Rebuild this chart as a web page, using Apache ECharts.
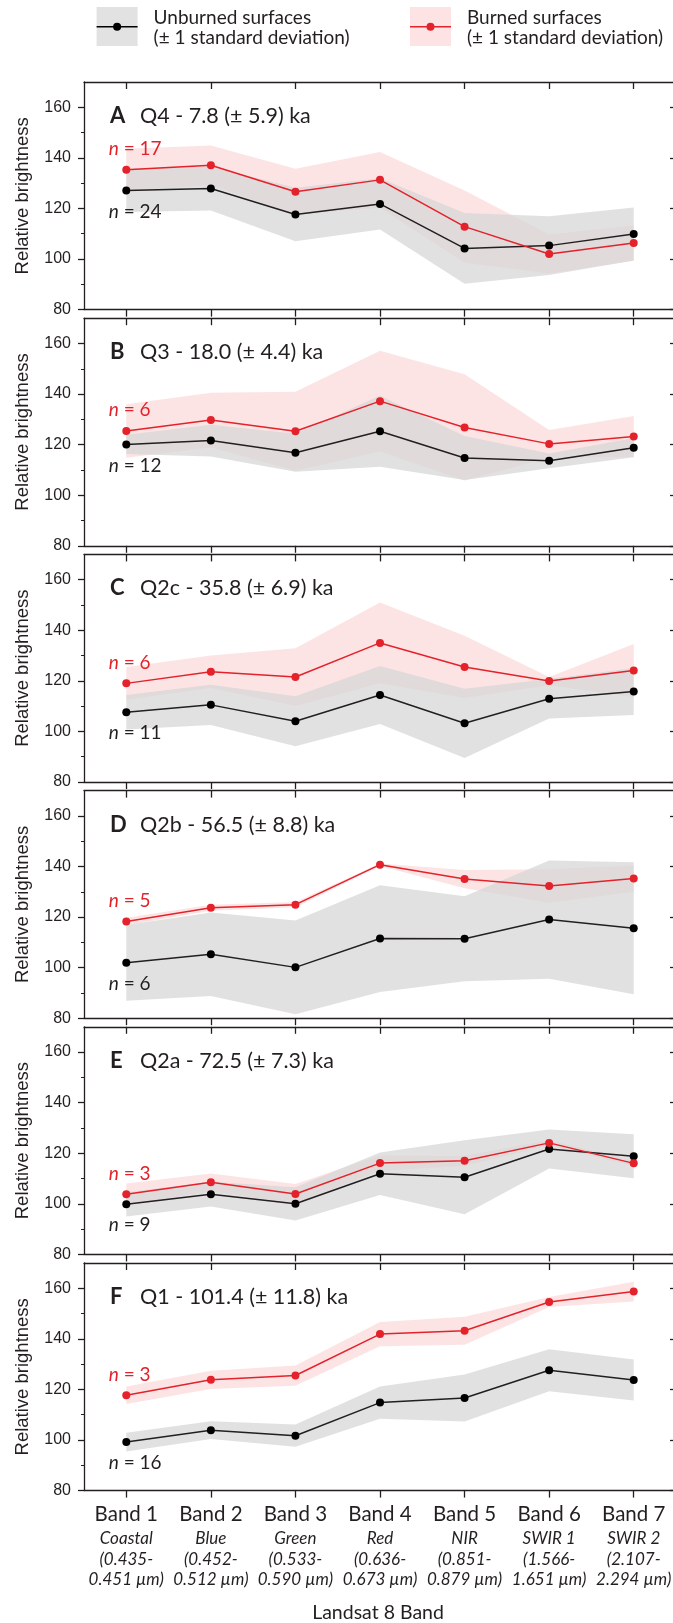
<!DOCTYPE html>
<html>
<head>
<meta charset="utf-8">
<script src="https://cdn.jsdelivr.net/npm/echarts@6/dist/echarts.min.js"></script>
<style>
  html, body { margin: 0; padding: 0; background: #ffffff; }
  #chart { width: 673px; height: 1623px; }
</style>
</head>
<body>
<div id="chart"></div>
<script>
// Landsat 8 bands on the x axis
const bands = ['Band 1', 'Band 2', 'Band 3', 'Band 4', 'Band 5', 'Band 6', 'Band 7'];
const bandNames = ['Coastal', 'Blue', 'Green', 'Red', 'NIR', 'SWIR 1', 'SWIR 2'];
const bandRangeFrom = ['(0.435-', '(0.452-', '(0.533-', '(0.636-', '(0.851-', '(1.566-', '(2.107-'];
const bandRangeTo = ['0.451 µm)', '0.512 µm)', '0.590 µm)', '0.673 µm)', '0.879 µm)', '1.651 µm)', '2.294 µm)'];

// One panel per surface age
const panelLetters = ['A', 'B', 'C', 'D', 'E', 'F'];
const panelTitles = [
  'Q4 - 7.8 (± 5.9) ka',
  'Q3 - 18.0 (± 4.4) ka',
  'Q2c - 35.8 (± 6.9) ka',
  'Q2b - 56.5 (± 8.8) ka',
  'Q2a - 72.5 (± 7.3) ka',
  'Q1 - 101.4 (± 11.8) ka'
];
const nUnburned = [24, 12, 11, 6, 9, 16];
const nBurned = [17, 6, 6, 5, 3, 3];

// Mean relative brightness and one standard deviation, per panel and band
const unburnedMean = [
  [127.1, 127.9, 117.6, 121.8, 104.2, 105.3, 109.9],
  [120.1, 121.6, 116.8, 125.3, 114.7, 113.6, 118.8],
  [107.6, 110.5, 104.0, 114.4, 103.2, 112.9, 115.8],
  [101.9, 105.3, 100.1, 111.5, 111.4, 119.0, 115.6],
  [99.8, 103.8, 100.0, 111.9, 110.5, 121.7, 118.8],
  [99.2, 103.9, 101.7, 114.8, 116.6, 127.6, 123.7]
];
const unburnedSd = [
  [8.5, 8.7, 10.6, 10.1, 14.0, 11.6, 10.5],
  [3.8, 6.3, 7.5, 14.0, 8.7, 2.9, 3.8],
  [6.8, 8.0, 9.9, 11.5, 13.7, 7.8, 9.3],
  [15.0, 16.5, 18.5, 21.1, 16.8, 23.4, 26.1],
  [4.8, 4.9, 6.6, 8.4, 14.6, 7.7, 8.7],
  [3.7, 3.5, 4.4, 6.4, 9.3, 8.3, 8.1]
];
const burnedMean = [
  [135.3, 137.1, 126.6, 131.3, 112.8, 102.0, 106.3],
  [125.4, 129.7, 125.3, 137.2, 126.8, 120.3, 123.2],
  [119.0, 123.6, 121.5, 135.0, 125.5, 119.9, 124.1],
  [118.2, 123.7, 124.9, 140.7, 135.0, 132.3, 135.2],
  [103.8, 108.5, 103.9, 116.1, 117.0, 124.1, 116.0],
  [117.7, 123.8, 125.5, 141.9, 143.2, 154.6, 158.7]
];
const burnedSd = [
  [8.3, 7.8, 9.1, 11.0, 14.3, 7.7, 7.0],
  [10.6, 10.8, 15.6, 19.9, 21.0, 5.5, 8.1],
  [6.5, 6.4, 11.4, 16.0, 12.3, 1.6, 10.5],
  [1.5, 1.2, 1.0, 0.5, 3.6, 6.6, 5.2],
  [4.2, 3.5, 3.9, 3.0, 2.0, 1.0, 1.0],
  [3.5, 3.6, 4.0, 4.8, 5.5, 2.0, 3.9]
];

// Value axis ticks
const yMajorTicks = [80, 100, 120, 140, 160];
const yMinorTicks = [90, 110, 130, 150];

// ---- layout and style ----
const Y_MIN = 80, Y_MAX = 170;
const GRID_LEFT = 84, GRID_W = 592, TOP0 = 82, STEP = 236.2, GRID_H = 227.6;
const INK = '#231f20';
const RED = '#e3222b';
const GRAY_FILL = 'rgba(214,214,214,0.72)';
const PINK_FILL = 'rgba(236,30,36,0.12)';
const SANS = 'Lato, "Open Sans", sans-serif';
const AXIS_FONT = '"Liberation Sans", Arial, sans-serif';
const AXIS_W = 1.3;

const grids = [], xAxes = [], yAxes = [], series = [], titles = [];

function bandLabel(value, idx) {
  return '{b|' + value + '}\n{i|' + bandNames[idx] + '}\n{i|' + bandRangeFrom[idx] + '}\n{i|' + bandRangeTo[idx] + '}';
}

// "n = .." annotation placed just left of the first band
function nLabel(color, n, yVal) {
  return {
    symbol: 'circle', symbolSize: 1, silent: true,
    itemStyle: { color: 'rgba(0,0,0,0)' },
    label: {
      show: true, position: [-17, 0], align: 'left', verticalAlign: 'middle',
      formatter: '{n|n}{v| = ' + n + '}',
      rich: {
        n: { fontFamily: SANS, fontSize: 19, fontStyle: 'italic', color: color },
        v: { fontFamily: SANS, fontSize: 19, color: color }
      }
    },
    data: [{ coord: [0, yVal] }]
  };
}

panelLetters.forEach((letter, p) => {
  const top = TOP0 + STEP * p;
  const last = p === panelLetters.length - 1;
  grids.push({ left: GRID_LEFT, top: top, width: GRID_W, height: GRID_H, outerBoundsMode: 'none' });

  // bottom axis (labels only under the last panel) and top frame with inward ticks
  xAxes.push({
    type: 'category', gridIndex: p, data: bands, boundaryGap: true, position: 'bottom',
    axisLine: { show: true, onZero: false, lineStyle: { color: INK, width: AXIS_W } },
    axisTick: { show: true, alignWithLabel: true, inside: false, length: 7, lineStyle: { color: INK, width: AXIS_W } },
    axisLabel: {
      show: last, interval: 0, margin: 10, color: INK,
      formatter: bandLabel,
      rich: {
        b: { fontFamily: SANS, fontSize: 20.5, lineHeight: 28, color: INK },
        i: { fontFamily: SANS, fontSize: 17, fontStyle: 'italic', lineHeight: 20.5, color: INK }
      }
    },
    splitLine: { show: false }
  });
  xAxes.push({
    type: 'category', gridIndex: p, data: bands, boundaryGap: true, position: 'top',
    axisLine: { show: true, onZero: false, lineStyle: { color: INK, width: AXIS_W } },
    axisTick: { show: true, alignWithLabel: true, inside: true, length: 7, lineStyle: { color: INK, width: AXIS_W } },
    axisLabel: { show: false }, splitLine: { show: false }
  });

  const yBase = { type: 'value', gridIndex: p, min: Y_MIN, max: Y_MAX, interval: 10, splitLine: { show: false } };
  // left: labelled major ticks
  yAxes.push(Object.assign({}, yBase, {
    position: 'left',
    name: 'Relative brightness', nameLocation: 'middle', nameRotate: 90, nameGap: 52,
    nameTextStyle: { fontFamily: AXIS_FONT, fontSize: 18.5, color: INK },
    axisLine: { show: true, onZero: false, lineStyle: { color: INK, width: AXIS_W } },
    axisTick: { show: true, inside: false, length: 6, customValues: yMajorTicks, lineStyle: { color: INK, width: AXIS_W } },
    axisLabel: { show: true, margin: 13, customValues: yMajorTicks, fontFamily: AXIS_FONT, fontSize: 16, color: INK }
  }));
  // left: minor ticks
  yAxes.push(Object.assign({}, yBase, {
    position: 'left',
    axisLine: { show: false },
    axisTick: { show: true, inside: false, length: 3, customValues: yMinorTicks, lineStyle: { color: INK, width: 1 } },
    axisLabel: { show: false }
  }));
  // right frame: inward ticks
  yAxes.push(Object.assign({}, yBase, {
    position: 'right',
    axisLine: { show: true, onZero: false, lineStyle: { color: INK, width: AXIS_W } },
    axisTick: { show: true, inside: true, length: 6, customValues: yMajorTicks, lineStyle: { color: INK, width: AXIS_W } },
    axisLabel: { show: false }
  }));
  yAxes.push(Object.assign({}, yBase, {
    position: 'right',
    axisLine: { show: false },
    axisTick: { show: true, inside: true, length: 3, customValues: yMinorTicks, lineStyle: { color: INK, width: 1 } },
    axisLabel: { show: false }
  }));

  const xi = 2 * p, yi = 4 * p;
  const bLow = burnedMean[p].map((m, i) => m - burnedSd[p][i]);
  const bSpan = burnedSd[p].map(s => 2 * s);
  const uLow = unburnedMean[p].map((m, i) => m - unburnedSd[p][i]);
  const uSpan = unburnedSd[p].map(s => 2 * s);
  const bandCommon = { type: 'line', xAxisIndex: xi, yAxisIndex: yi, symbol: 'none', silent: true,
    lineStyle: { opacity: 0 }, emphasis: { disabled: true } };

  // ±1 SD envelopes (stacked: lower edge, then the span above it)
  series.push(Object.assign({}, bandCommon, { stack: 'burned' + p, data: bLow }));
  series.push(Object.assign({}, bandCommon, { stack: 'burned' + p, data: bSpan, areaStyle: { color: PINK_FILL, opacity: 1 } }));
  series.push(Object.assign({}, bandCommon, { stack: 'unburned' + p, data: uLow }));
  series.push(Object.assign({}, bandCommon, { stack: 'unburned' + p, data: uSpan, areaStyle: { color: GRAY_FILL, opacity: 1 } }));

  // mean lines
  series.push({
    type: 'line', xAxisIndex: xi, yAxisIndex: yi, data: unburnedMean[p],
    symbol: 'circle', symbolSize: 8, silent: true,
    lineStyle: { color: INK, width: 1.5 }, itemStyle: { color: '#000000' },
    markPoint: nLabel(INK, nUnburned[p], unburnedMean[p][0] - 8.5)
  });
  series.push({
    type: 'line', xAxisIndex: xi, yAxisIndex: yi, data: burnedMean[p],
    symbol: 'circle', symbolSize: 8, silent: true,
    lineStyle: { color: RED, width: 1.5 }, itemStyle: { color: RED },
    markPoint: nLabel(RED, nBurned[p], burnedMean[p][0] + 8)
  });

  titles.push({
    text: '{l|' + letter + '}{t|' + panelTitles[p] + '}',
    left: 105, top: top + 18,
    textStyle: {
      rich: {
        l: { fontFamily: SANS, fontSize: 22, fontWeight: 'bold', color: INK, width: 30 },
        t: { fontFamily: SANS, fontSize: 21.5, fontWeight: 'normal', color: INK }
      }
    }
  });
});

// legend drawn as boxes with a line and marker
function legendItem(x, fill, color, line1, line2) {
  return [
    { type: 'rect', shape: { x: x, y: 7, width: 41, height: 39 }, style: { fill: fill } },
    { type: 'line', shape: { x1: x, y1: 26.7, x2: x + 41, y2: 26.7 }, style: { stroke: color, lineWidth: 1.5 } },
    { type: 'circle', shape: { cx: x + 20.5, cy: 26.7, r: 4 }, style: { fill: color } },
    { type: 'text', x: x + 57, y: 18.3, style: { text: line1, font: '19px ' + SANS, fill: INK, textVerticalAlign: 'middle' } },
    { type: 'text', x: x + 57, y: 37.5, style: { text: line2, font: '19px ' + SANS, fill: INK, textVerticalAlign: 'middle' } }
  ];
}

const graphics = []
  .concat(legendItem(96.6, '#e2e2e2', '#000000', 'Unburned surfaces', '(± 1 standard deviation)'))
  .concat(legendItem(410, '#fde3e3', RED, 'Burned surfaces', '(± 1 standard deviation)'));
graphics.push({
  type: 'text', x: GRID_LEFT + GRID_W / 2 - 2, y: 1613,
  style: { text: 'Landsat 8 Band', font: '19.5px ' + SANS, fill: INK, textAlign: 'center', textVerticalAlign: 'middle' }
});

const chart = echarts.init(document.getElementById('chart'), null, { renderer: 'canvas' });
chart.setOption({
  animation: false,
  backgroundColor: '#ffffff',
  title: titles,
  grid: grids,
  xAxis: xAxes,
  yAxis: yAxes,
  series: series,
  graphic: graphics,
  tooltip: { show: false }
});
</script>
</body>
</html>
